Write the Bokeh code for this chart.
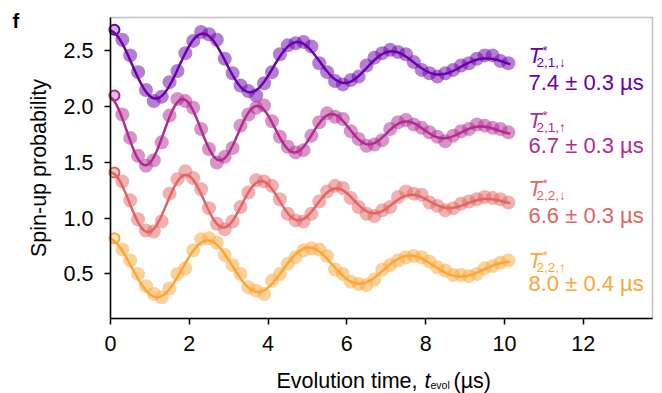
import numpy as np
from bokeh.plotting import figure
from bokeh.models import Label, FixedTicker, BoxAnnotation
from bokeh.embed import file_html
from bokeh.resources import INLINE

# ---------------- data ----------------
t_evol = [0.1, 0.3, 0.5, 0.7, 0.9, 1.1, 1.3, 1.5, 1.7, 1.9,
          2.1, 2.3, 2.5, 2.7, 2.9, 3.1, 3.3, 3.5, 3.7, 3.9,
          4.1, 4.3, 4.5, 4.7, 4.9, 5.1, 5.3, 5.5, 5.7, 5.9,
          6.1, 6.3, 6.5, 6.7, 6.9, 7.1, 7.3, 7.5, 7.7, 7.9,
          8.1, 8.3, 8.5, 8.7, 8.9, 9.1, 9.3, 9.5, 9.7, 9.9, 10.1]

p_up_21_down = [2.69, 2.60, 2.46, 2.31, 2.15, 2.05, 2.09, 2.22, 2.32, 2.48,
                2.59, 2.67, 2.65, 2.60, 2.43, 2.30, 2.19, 2.14, 2.10, 2.21,
                2.31, 2.47, 2.55, 2.57, 2.58, 2.54, 2.39, 2.31, 2.23, 2.20,
                2.24, 2.27, 2.37, 2.44, 2.48, 2.51, 2.49, 2.47, 2.40, 2.33,
                2.30, 2.27, 2.30, 2.33, 2.37, 2.39, 2.43, 2.46, 2.46, 2.41, 2.39]
p_up_21_up = [2.10, 1.93, 1.72, 1.56, 1.47, 1.52, 1.68, 1.92, 2.07, 2.05,
              1.99, 1.80, 1.62, 1.50, 1.55, 1.63, 1.83, 1.93, 1.99, 2.01,
              1.87, 1.73, 1.64, 1.59, 1.61, 1.74, 1.86, 1.94, 1.91, 1.89,
              1.78, 1.71, 1.65, 1.66, 1.70, 1.80, 1.86, 1.88, 1.84, 1.81,
              1.77, 1.73, 1.69, 1.74, 1.78, 1.80, 1.84, 1.83, 1.81, 1.80, 1.77]
p_up_22_down = [1.41, 1.33, 1.16, 0.99, 0.89, 0.88, 0.97, 1.22, 1.35, 1.42,
                1.36, 1.26, 1.09, 0.95, 0.90, 0.97, 1.10, 1.23, 1.34, 1.33,
                1.29, 1.17, 1.04, 0.98, 0.97, 1.04, 1.15, 1.24, 1.29, 1.27,
                1.18, 1.10, 1.04, 1.02, 1.07, 1.10, 1.19, 1.24, 1.22, 1.21,
                1.14, 1.11, 1.07, 1.09, 1.13, 1.15, 1.17, 1.19, 1.18, 1.17, 1.14]
p_up_22_up = [0.82, 0.72, 0.62, 0.50, 0.39, 0.32, 0.29, 0.37, 0.50, 0.55,
              0.71, 0.81, 0.82, 0.78, 0.67, 0.58, 0.50, 0.38, 0.35, 0.32,
              0.44, 0.50, 0.59, 0.65, 0.71, 0.73, 0.72, 0.66, 0.54, 0.50,
              0.43, 0.41, 0.40, 0.45, 0.54, 0.58, 0.62, 0.65, 0.66, 0.65,
              0.61, 0.56, 0.53, 0.49, 0.49, 0.48, 0.50, 0.55, 0.57, 0.60, 0.62]

series_values = [p_up_21_down, p_up_21_up, p_up_22_down, p_up_22_up]
sub_labels = ["2,1,\u2193", "2,1,\u2191", "2,2,\u2193", "2,2,\u2191"]
t2star = [7.4, 6.7, 6.6, 8.0]
t2star_err = [0.3, 0.3, 0.3, 0.4]

# Gaussian-damped cosine fit parameters
fit_offset = [2.375, 1.78, 1.14, 0.555]
fit_amp = [0.31, 0.31, 0.27, 0.27]
fit_period = [2.41, 1.90, 1.92, 2.58]
fit_t0 = [-0.05, -0.06, 0.0, -0.10]

x_ticks = [0, 2, 4, 6, 8, 10, 12]
y_ticks = [0.5, 1.0, 1.5, 2.0, 2.5]
y_tick_labels = ["0.5", "1.0", "1.5", "2.0", "2.5"]

# ---------------- style / layout ----------------
colors = ["#6a00a8", "#b12a90", "#e16462", "#fca636"]
FONT = "Liberation Sans"
AX_X0, AX_X1 = 0.0, 13.76          # axes box, data units
AX_Y0, AX_Y1 = 0.10, 2.80
W, H = 662, 393                    # canvas
BOX_L, BOX_R, BOX_T, BOX_B = 110, 652, 17, 318   # axes box, page pixels
PXX = (BOX_R - BOX_L) / (AX_X1 - AX_X0)
PXY = (BOX_B - BOX_T) / (AX_Y1 - AX_Y0)
x_range = (AX_X0 - BOX_L / PXX, AX_X1 + (W - BOX_R) / PXX)
y_range = (AX_Y0 - (H - BOX_B) / PXY, AX_Y1 + BOX_T / PXY)

p = figure(width=W, height=H, x_range=x_range, y_range=y_range,
           output_backend="svg", toolbar_location=None,
           min_border_left=0, min_border_right=0,
           min_border_top=0, min_border_bottom=0)
p.grid.visible = False
p.outline_line_color = None
p.background_fill_color = "white"
p.border_fill_color = "white"

p.add_layout(BoxAnnotation(left=AX_X0, right=AX_X1, bottom=AX_Y0, top=AX_Y1,
                           fill_color=None, line_color="#333333",
                           line_width=1.5, level="underlay"))

for ax in (p.xaxis[0], p.yaxis[0]):
    ax.axis_line_color = "black"
    ax.axis_line_width = 1.5
    ax.major_tick_line_color = "black"
    ax.major_tick_line_width = 1.5
    ax.major_tick_out = 6
    ax.major_tick_in = 0
    ax.minor_tick_line_color = None
    ax.major_label_text_font = FONT
    ax.major_label_text_font_size = "21.5px"
    ax.major_label_text_color = "black"
    ax.major_label_standoff = 11

p.xaxis.fixed_location = AX_Y0
p.yaxis.fixed_location = AX_X0
p.xaxis.bounds = (AX_X0, AX_X1)
p.yaxis.bounds = (AX_Y0, AX_Y1)
p.xaxis.ticker = FixedTicker(ticks=x_ticks)
p.yaxis.ticker = FixedTicker(ticks=y_ticks)
p.yaxis.major_label_overrides = {v: s for v, s in zip(y_ticks, y_tick_labels)}
p.yaxis.axis_label = "Spin-up probability"
p.yaxis.axis_label_text_font = FONT
p.yaxis.axis_label_text_font_size = "21.5px"
p.yaxis.axis_label_text_font_style = "normal"
p.yaxis.axis_label_text_color = "black"
p.yaxis.axis_label_standoff = 10

t_arr = np.array(t_evol)
t_fine = np.linspace(0.0, 10.15, 500)

for vals, c, off, amp, per, t0, T2 in zip(series_values, colors, fit_offset,
                                          fit_amp, fit_period, fit_t0, t2star):
    v = np.array(vals)
    p.scatter(t_arr[1:], v[1:], size=14, fill_color=c, fill_alpha=0.5,
              line_color=None)
    p.scatter(t_arr[:1], v[:1], size=10, fill_color=c, fill_alpha=0.3,
              line_color=c, line_width=2)
    fit = off + amp * np.exp(-(t_fine / T2) ** 2) * np.cos(2 * np.pi * (t_fine - t0) / per)
    p.line(t_fine, fit, line_color=c, line_width=2.5)


def page_to_data(px, py):
    return AX_X0 + (px - BOX_L) / PXX, AX_Y1 - (py - BOX_T) / PXY


def add_text(text, px, py, size, color="black", style="normal"):
    x, y = page_to_data(px, py)
    p.add_layout(Label(x=x, y=y, text=text, text_font=FONT,
                       text_font_size=f"{size}px", text_font_style=style,
                       text_color=color, text_baseline="alphabetic",
                       text_align="left"))


# series annotations (page-pixel baselines)
t_base = [55, 120, 188, 260]
v_base = [82, 145, 215, 283]
for c, sub, T2, err, tb, vb in zip(colors, sub_labels, t2star, t2star_err, t_base, v_base):
    add_text("T", 528, tb, 22, c, "italic")
    add_text("*", 542, tb - 5, 13, c)
    add_text(sub, 536, tb + 7, 13.5, c)
    add_text(f"{T2:.1f} \u00b1 {err:.1f} \u00b5s", 528, vb, 22, c)

# x-axis label with subscript
add_text("Evolution time,", 276, 380, 21.5)
add_text("t", 424, 380, 21.5, "black", "italic")
add_text("evol", 430, 384, 10.5)
add_text("(\u00b5s)", 453, 380, 21.5)

# panel letter
add_text("f", 12, 20, 20, "black", "bold")

open("out.html", "w").write(file_html(p, INLINE))
